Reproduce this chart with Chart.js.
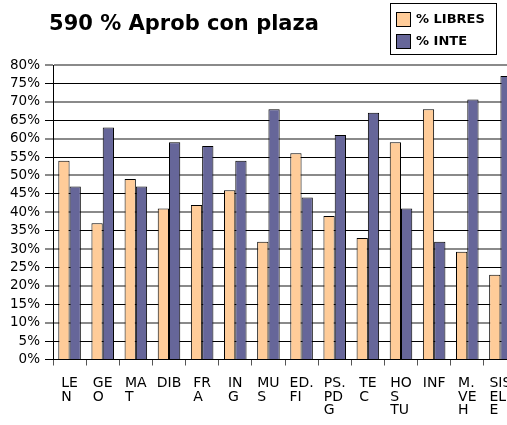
<!DOCTYPE html>
<html>
<head>
<meta charset="utf-8">
<script src="https://cdn.jsdelivr.net/npm/chart.js@4/dist/chart.umd.min.js"></script>
<style>
  html, body { margin: 0; padding: 0; background: #fff; overflow: hidden; width: 507px; height: 425px; }
  canvas { display: block; position: absolute; left: 0; top: 0; }
</style>
</head>
<body>
<canvas id="c" width="530" height="425"></canvas>
<script>
// ---- data ----
const chartTitle = "590 % Aprob con plaza";
const categories = [["LE","N"],["GE","O"],["MA","T"],["DIB"],["FR","A"],["IN","G"],["MU","S"],["ED.","FI"],["PS.","PD","G"],["TE","C"],["HO","S","TU"],["INF"],["M.","VE","H"],["SIS","EL","E"]];
const seriesNames = ["% LIBRES", "% INTE"];
const libres = [54, 37, 49, 41, 42, 46, 32, 56, 39, 33, 59, 68, 29.3, 23];
const inte   = [47, 63, 47, 59, 58, 54, 68, 44, 61, 67, 41, 32, 70.6, 77];
const yTicksMax = 80;
const yTicksStep = 5;
const colors = ["#FFCC99", "#666699"];

const FONT = "'DejaVu Sans', sans-serif";

const whiteBg = {
  id: 'whiteBg',
  beforeDraw(chart) {
    const c = chart.ctx;
    c.save(); c.fillStyle = '#fff'; c.fillRect(0, 0, chart.width, chart.height); c.restore();
  }
};

const extras = {
  id: 'extras',
  afterDraw(chart) {
    const c = chart.ctx;
    const xs = chart.scales.x;
    c.save();
    // title
    c.fillStyle = '#000';
    c.font = "bold 21px " + FONT;
    c.textAlign = 'center';
    c.textBaseline = 'alphabetic';
    c.fillText(chartTitle, 184, 29.5);

    // category labels: left-aligned lines, block centred on category
    c.font = "14px " + FONT;
    c.textAlign = 'left';
    chart.data.labels.forEach((lines, i) => {
      const x = xs.getPixelForValue(i);
      const w = Math.max(...lines.map(l => c.measureText(l).width));
      lines.forEach((l, k) => c.fillText(l, x - w / 2, 387 + k * 13.5));
    });

    // legend box
    c.lineWidth = 1;
    c.strokeStyle = '#000';
    c.strokeRect(390.5, 3.5, 106, 51);
    c.font = "bold 13px " + FONT;
    c.textBaseline = 'middle';
    chart.data.datasets.forEach((ds, i) => {
      const y = 12 + i * 22;
      c.fillStyle = ds.backgroundColor;
      c.fillRect(396, y, 15, 15);
      c.strokeStyle = '#000';
      c.strokeRect(396.5, y + 0.5, 14, 14);
      c.fillStyle = '#000';
      c.fillText(ds.label, 416, y + 8);
    });
    c.restore();
  }
};

new Chart(document.getElementById('c'), {
  type: 'bar',
  data: {
    labels: categories,
    datasets: [
      { label: seriesNames[0], data: libres, backgroundColor: colors[0], borderColor: '#000', borderWidth: 1 },
      { label: seriesNames[1], data: inte, backgroundColor: colors[1], borderColor: '#000', borderWidth: 1 }
    ]
  },
  options: {
    responsive: false,
    animation: false,
    devicePixelRatio: 1,
    datasets: { bar: { categoryPercentage: 0.68, barPercentage: 1.0 } },
    layout: { padding: { top: 65, right: 13, bottom: 0, left: 0 } },
    plugins: { legend: { display: false }, title: { display: false }, tooltip: { enabled: false } },
    scales: {
      x: {
        offset: true,
        grid: { display: true, drawOnChartArea: false, drawTicks: true, tickLength: 6, color: '#555', offset: true },
        border: { display: true, color: '#000', width: 1 },
        ticks: { display: false },
        afterFit(s) { s.height = 65.5; }
      },
      y: {
        min: 0, max: yTicksMax,
        grid: {
          color: ctx => (ctx.tick && ctx.tick.value !== 0 && ctx.tick.value % 10 === 0) ? '#8a8a8a' : '#000',
          lineWidth: ctx => (ctx.tick && ctx.tick.value !== 0 && ctx.tick.value % 10 === 0) ? 2 : 1,
          tickLength: 8
        },
        border: { display: true, color: '#000', width: 1 },
        ticks: {
          stepSize: yTicksStep,
          autoSkip: false,
          color: '#000',
          padding: 5,
          font: { family: FONT, size: 13.5 },
          callback: v => v + '%'
        },
        afterFit(s) { s.width = 53; }
      }
    }
  },
  plugins: [whiteBg, extras]
});
</script>
</body>
</html>
